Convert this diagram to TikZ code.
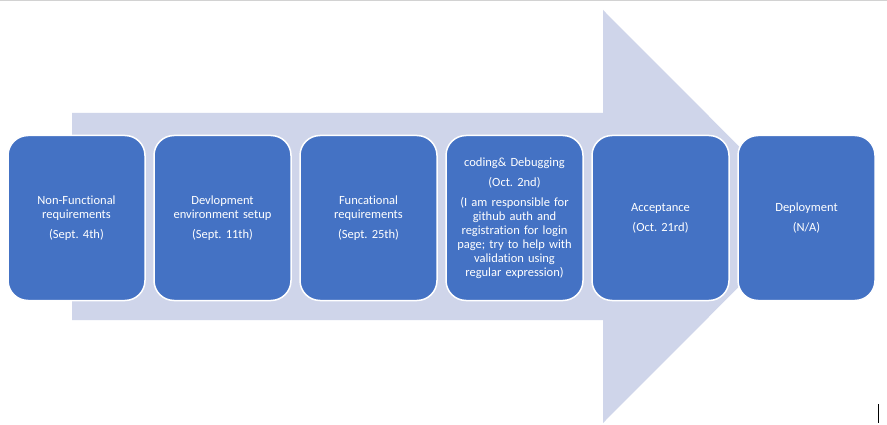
\documentclass[tikz,border=0pt]{standalone}
\usepackage{fontspec}
\setmainfont{Carlito}[Ligatures=NoCommon]
\frenchspacing
\usetikzlibrary{positioning}
\definecolor{phaseblue}{HTML}{4472C4}
\definecolor{arrowbg}{HTML}{CFD5EA}
\tikzstyle{phase} = [rectangle, rounded corners=20pt, minimum width=137pt, minimum height=165pt,
    text width=128pt, align=center, draw=white, line width=1.5pt, fill=phaseblue,
    text=white, font=\fontsize{12.5}{14}\selectfont]
\tikzstyle{bigarrow} = [fill=arrowbg]

\begin{document}
\begin{tikzpicture}[x=1pt, y=-1pt, node distance=7.5pt]
    \useasboundingbox (0,0) rectangle (887,425);
    \fill[white] (0,0) rectangle (887,425);
    \draw[gray!35, line width=1pt] (0,0.5) -- (887,0.5);

    % background arrow
    \fill[bigarrow] (72,113) -- (603,113) -- (603,10) -- (809,216.5)
        -- (603,423) -- (603,320) -- (72,320) -- cycle;

    \node (nonfunc) [phase] at (76.5,218) {Non-Functional\\requirements\\[6pt](Sept. 4th)};
    \node (devenv) [phase, right=of nonfunc] {Devlopment\\environment setup\\[6pt](Sept. 11th)};
    \node (func) [phase, right=of devenv] {Funcational\\requirements\\[6pt](Sept. 25th)};
    \node (coding) [phase, right=of func] {coding\& Debugging\\[6pt](Oct. 2nd)\\[6pt](I am responsible for\\github auth and\\registration for login\\page; try to help with\\validation using\\regular expression)};
    \node (accept) [phase, right=of coding] {Acceptance\\[6pt](Oct. 21rd)};
    \node (deploy) [phase, right=of accept] {Deployment\\[6pt](N/A)};

    \draw[black, line width=0.8pt] (878,404) -- (878,423);
\end{tikzpicture}
\end{document}
